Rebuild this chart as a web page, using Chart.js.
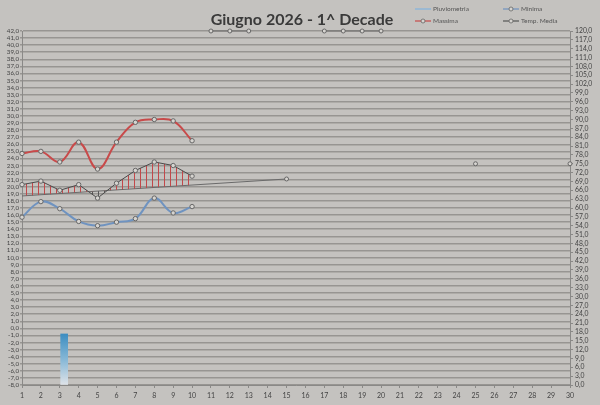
<!DOCTYPE html>
<html>
<head>
<meta charset="utf-8">
<script src="https://cdn.jsdelivr.net/npm/chart.js@4.4.1/dist/chart.umd.min.js"></script>
<style>
    body { margin: 0; background: #c4c2bf; }
    #wrap { position: relative; width: 600px; height: 405px; font-family: Lato, 'Open Sans', sans-serif; }
    #title { position: absolute; left: 182px; top: 9px; width: 240px; text-align: center;
             font-size: 16px; font-weight: bold; color: #3a3a3a; }
    .leg { position: absolute; font-size: 6.5px; color: #555; line-height: 8px; }
    .leg svg { vertical-align: middle; margin-right: 2px; }
</style>
</head>
<body>
<div id="wrap">
    <canvas id="meteoChart" width="600" height="405"></canvas>
    <div id="title">Giugno 2026 - 1^ Decade</div>
    <div class="leg" style="left:415px; top:5px;"><svg width="16" height="6"><line x1="0" y1="3" x2="16" y2="3" stroke="#8fb6d8" stroke-width="1.5"/></svg>Pluviometria</div>
    <div class="leg" style="left:503px; top:5px;"><svg width="16" height="6"><line x1="0" y1="3" x2="16" y2="3" stroke="#6f93c0" stroke-width="1.2"/><circle cx="8" cy="3" r="2" fill="#d6d4d0" stroke="#666" stroke-width="0.8"/></svg>Minima</div>
    <div class="leg" style="left:415px; top:17px;"><svg width="16" height="6"><line x1="0" y1="3" x2="16" y2="3" stroke="#c84a4a" stroke-width="1.2"/><circle cx="8" cy="3" r="2" fill="#d6d4d0" stroke="#666" stroke-width="0.8"/></svg>Massima</div>
    <div class="leg" style="left:503px; top:17px;"><svg width="16" height="6"><line x1="0" y1="3" x2="16" y2="3" stroke="#555" stroke-width="1.2"/><circle cx="8" cy="3" r="2" fill="#d6d4d0" stroke="#666" stroke-width="0.8"/></svg>Temp. Media</div>
</div>
<script>
const days = ['1','2','3','4','5','6','7','8','9','10','11','12','13','14','15',
              '16','17','18','19','20','21','22','23','24','25','26','27','28','29','30'];

const massima = [24.7, 25.0, 23.5, 26.3, 22.5, 26.3, 29.1, 29.5, 29.3, 26.5];
const minima = [15.7, 17.9, 16.9, 15.1, 14.5, 15.0, 15.5, 18.4, 16.3, 17.2];
const media = [20.3, 20.8, 19.5, 20.3, 18.4, 20.5, 22.3, 23.5, 23.0, 21.5];
const riferimento = [18.7, null, null, null, null, null, null, null, null, null, null, null, null, null, 21.1];
const pioggia = [null, null, 17.3];
const fuoriScala = [null, null, null, null, null, null, null, null, null, null, 42, 42, 42, null, null, null, 42, 42, 42, 42];
const puntiDestra = [null, null, null, null, null, null, null, null, null, null, null, null, null, null, null,
                     null, null, null, null, null, null, null, null, null, 75, null, null, null, null, 75];

const leftTicks = { min: -8, max: 42, step: 1 };
const rightTicks = { min: 0, max: 120, step: 3 };

function hatch(color) {
    const c = document.createElement('canvas');
    c.width = 6;
    c.height = 6;
    const g = c.getContext('2d');
    g.strokeStyle = color;
    g.lineWidth = 1;
    g.beginPath();
    g.moveTo(2.5, 0);
    g.lineTo(2.5, 6);
    g.stroke();
    return g.createPattern(c, 'repeat');
}

const ctx = document.getElementById('meteoChart').getContext('2d');
const redHatch = hatch('#c2484a');
const darkHatch = hatch('#555555');
const markerBg = '#d6d4d0';
const markerBorder = '#666';
const comma = v => Number(v).toFixed(1).replace('.', ',');

new Chart(ctx, {
    data: {
        labels: days,
        datasets: [
            {
                type: 'bar',
                label: 'Pluviometria',
                data: pioggia,
                xAxisID: 'x2',
                yAxisID: 'y2',
                barThickness: 7,
                backgroundColor: function (c) {
                    const area = c.chart.chartArea;
                    if (!area) return '#3f8fc0';
                    const gr = c.chart.ctx.createLinearGradient(0, area.bottom - 52, 0, area.bottom);
                    gr.addColorStop(0, '#3a8cc0');
                    gr.addColorStop(0.55, '#8dbbd8');
                    gr.addColorStop(1, '#dfe3e8');
                    return gr;
                },
                order: 5
            },
            {
                type: 'line',
                label: 'Minima',
                data: minima,
                borderColor: '#6f93c0',
                borderWidth: 2,
                tension: 0.4,
                pointRadius: 2.2,
                pointBackgroundColor: markerBg,
                pointBorderColor: markerBorder,
                pointBorderWidth: 1,
                order: 1
            },
            {
                type: 'line',
                label: 'Massima',
                data: massima,
                borderColor: '#c84a4a',
                borderWidth: 2,
                tension: 0.4,
                pointRadius: 2.2,
                pointBackgroundColor: markerBg,
                pointBorderColor: markerBorder,
                pointBorderWidth: 1,
                order: 1
            },
            {
                type: 'line',
                label: 'Temp. Media',
                data: media,
                borderColor: '#4a4a4a',
                borderWidth: 1,
                tension: 0,
                pointRadius: 2.2,
                pointBackgroundColor: markerBg,
                pointBorderColor: markerBorder,
                pointBorderWidth: 1,
                fill: { target: 4, above: redHatch, below: darkHatch },
                order: 1
            },
            {
                type: 'line',
                label: 'Riferimento',
                data: riferimento,
                spanGaps: true,
                borderColor: '#6a6a6a',
                borderWidth: 1,
                pointRadius: c => (c.dataIndex === 0 ? 0 : 2),
                pointBackgroundColor: markerBg,
                pointBorderColor: markerBorder,
                pointBorderWidth: 1,
                order: 2
            },
            {
                type: 'line',
                label: 'Fuori scala',
                data: fuoriScala,
                clip: false,
                borderColor: '#6a6a6a',
                borderWidth: 1,
                pointRadius: 2,
                pointBackgroundColor: markerBg,
                pointBorderColor: markerBorder,
                pointBorderWidth: 1,
                order: 2
            },
            {
                type: 'line',
                label: 'Punti',
                data: puntiDestra,
                yAxisID: 'y2',
                showLine: false,
                pointRadius: 2,
                pointBackgroundColor: markerBg,
                pointBorderColor: markerBorder,
                pointBorderWidth: 1,
                order: 2
            }
        ]
    },
    options: {
        responsive: false,
        animation: false,
        devicePixelRatio: 1,
        layout: { padding: { top: 31, left: 0, right: 0, bottom: 0 } },
        plugins: {
            legend: { display: false },
            title: { display: false },
            tooltip: { enabled: false }
        },
        scales: {
            x: {
                type: 'category',
                offset: false,
                afterFit: s => { s.height = 20; },
                grid: { drawOnChartArea: false, tickLength: 3, color: '#8a8987' },
                border: { color: '#8a8987' },
                ticks: { color: '#444', font: { size: 7, family: 'Lato' }, padding: 4, maxRotation: 0, autoSkip: false }
            },
            x2: {
                type: 'category',
                offset: true,
                display: false
            },
            y: {
                position: 'left',
                min: leftTicks.min,
                max: leftTicks.max,
                afterFit: s => { s.width = 22; },
                grid: { color: '#979592', lineWidth: 1.5, tickLength: 2 },
                border: { color: '#8a8987' },
                ticks: {
                    stepSize: leftTicks.step,
                    autoSkip: false,
                    padding: 1,
                    color: '#444',
                    font: { size: 6.2, family: 'Lato' },
                    callback: v => comma(v)
                }
            },
            y2: {
                position: 'right',
                min: rightTicks.min,
                max: rightTicks.max,
                afterFit: s => { s.width = 30; },
                grid: { drawOnChartArea: false, tickLength: 3, color: '#8a8987' },
                border: { color: '#8a8987' },
                ticks: {
                    stepSize: rightTicks.step,
                    autoSkip: false,
                    padding: 2,
                    color: '#444',
                    font: { size: 6.8, family: 'Lato' },
                    callback: v => comma(v)
                }
            }
        }
    }
});
</script>
</body>
</html>
